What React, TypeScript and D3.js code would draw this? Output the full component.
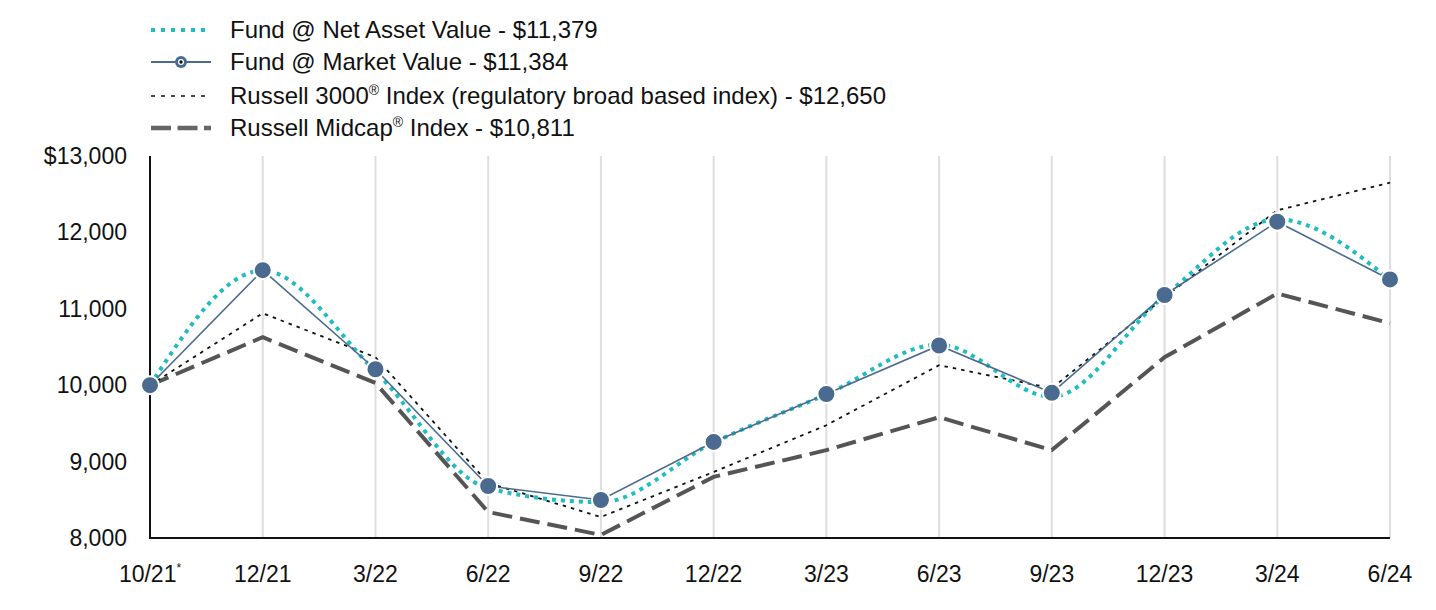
import React from "react";
import * as d3 from "d3";

const categories = ["10/21", "12/21", "3/22", "6/22", "9/22", "12/22", "3/23", "6/23", "9/23", "12/23", "3/24", "6/24"];
const navValues = [10000, 11500, 10180, 8650, 8470, 9250, 9880, 10530, 9850, 11170, 12170, 11379];
const marketValues = [10000, 11505, 10209, 8681, 8497, 9257, 9885, 10520, 9900, 11181, 12140, 11384];
const russell3000Values = [10000, 10942, 10366, 8720, 8275, 8864, 9476, 10262, 9960, 11150, 12290, 12650];
const midcapValues = [10000, 10628, 10030, 8340, 8040, 8800, 9150, 9581, 9150, 10366, 11200, 10811];
const yTicks = [8000, 9000, 10000, 11000, 12000, 13000];

const W = 1436, H = 610;
const left = 150, right = 1390, top = 156, bottom = 538;
const FONT = "Liberation Sans, Arial, sans-serif";
const FS = 23;
const LFS = 24;

export default function App() {
  const x = d3.scalePoint<string>().domain(categories).range([left, right]);
  const y = d3.scaleLinear().domain([8000, 13000]).range([bottom, top]);
  const lineStraight = d3.line<number>().x((_, i) => x(categories[i])!).y((v) => y(v));
  const lineSmooth = d3.line<number>().x((_, i) => x(categories[i])!).y((v) => y(v)).curve(d3.curveMonotoneX);

  const lx1 = 151, lx2 = 211, legendTextX = 230;
  const rows = [30, 62, 96, 128];

  return (
    <svg width={W} height={H} style={{ position: "absolute", left: 0, top: 0 }} fontFamily={FONT}>
      {/* legend */}
      <g>
        <line x1={lx1} x2={lx2} y1={rows[0]} y2={rows[0]} stroke="#1fbcc2" strokeWidth={4} strokeDasharray="4,6" />
        <text x={legendTextX} y={rows[0]} dy="0.35em" fontSize={LFS} fill="#111">Fund @ Net Asset Value - $11,379</text>
        <line x1={lx1} x2={lx2} y1={rows[1]} y2={rows[1]} stroke="#4a6b8f" strokeWidth={1.8} />
        <circle cx={(lx1 + lx2) / 2} cy={rows[1]} r={6} fill="#4a6b8f" />
        <circle cx={(lx1 + lx2) / 2} cy={rows[1]} r={3} fill="#fff" />
        <circle cx={(lx1 + lx2) / 2} cy={rows[1]} r={1.7} fill="#111" />
        <text x={legendTextX} y={rows[1]} dy="0.35em" fontSize={LFS} fill="#111">Fund @ Market Value - $11,384</text>
        <line x1={lx1} x2={lx2} y1={rows[2]} y2={rows[2]} stroke="#111" strokeWidth={1.6} strokeDasharray="4,6" />
        <text x={legendTextX} y={rows[2]} dy="0.35em" fontSize={LFS} fill="#111">
          Russell 3000<tspan fontSize={14} dy="-9">®</tspan><tspan dy="9"> Index (regulatory broad based index) - $12,650</tspan>
        </text>
        <line x1={lx1} x2={lx2} y1={rows[3]} y2={rows[3]} stroke="#666" strokeWidth={4.3} strokeDasharray="20,6.5" />
        <text x={legendTextX} y={rows[3]} dy="0.35em" fontSize={LFS} fill="#111">
          Russell Midcap<tspan fontSize={14} dy="-9">®</tspan><tspan dy="9"> Index - $10,811</tspan>
        </text>
      </g>

      {/* gridlines */}
      {categories.slice(1).map((c) => (
        <line key={c} x1={x(c)} x2={x(c)} y1={top} y2={bottom} stroke="#dedede" strokeWidth={2} />
      ))}

      {/* axes */}
      <line x1={left} x2={left} y1={top} y2={bottom} stroke="#111" strokeWidth={2} />
      <line x1={left - 1} x2={right} y1={bottom} y2={bottom} stroke="#111" strokeWidth={2} />

      {yTicks.map((t) => (
        <text key={t} x={127} y={y(t)} dy="0.35em" textAnchor="end" fontSize={FS} fill="#111">
          {(t === 13000 ? "$" : "") + d3.format(",")(t)}
        </text>
      ))}
      {categories.map((c, i) => (
        <text key={c} x={x(c)} y={574} dy="0.35em" textAnchor="middle" fontSize={FS} fill="#111">
          {c}
          {i === 0 ? <tspan fontSize={12} dy="-10">*</tspan> : null}
        </text>
      ))}

      {/* series */}
      <path d={lineStraight(midcapValues)!} fill="none" stroke="#555" strokeWidth={4} strokeDasharray="20,8" />
      <path d={lineStraight(russell3000Values)!} fill="none" stroke="#111" strokeWidth={1.8} strokeDasharray="3.5,5" />
      <path d={lineSmooth(navValues)!} fill="none" stroke="#1fbcc2" strokeWidth={4} strokeDasharray="4,5" />
      <path d={lineStraight(marketValues)!} fill="none" stroke="#4a6b8f" strokeWidth={1.6} />
      {marketValues.map((v, i) => (
        <circle key={i} cx={x(categories[i])} cy={y(v)} r={9} fill="#4a6b8f" stroke="#fff" strokeWidth={2} />
      ))}
    </svg>
  );
}
